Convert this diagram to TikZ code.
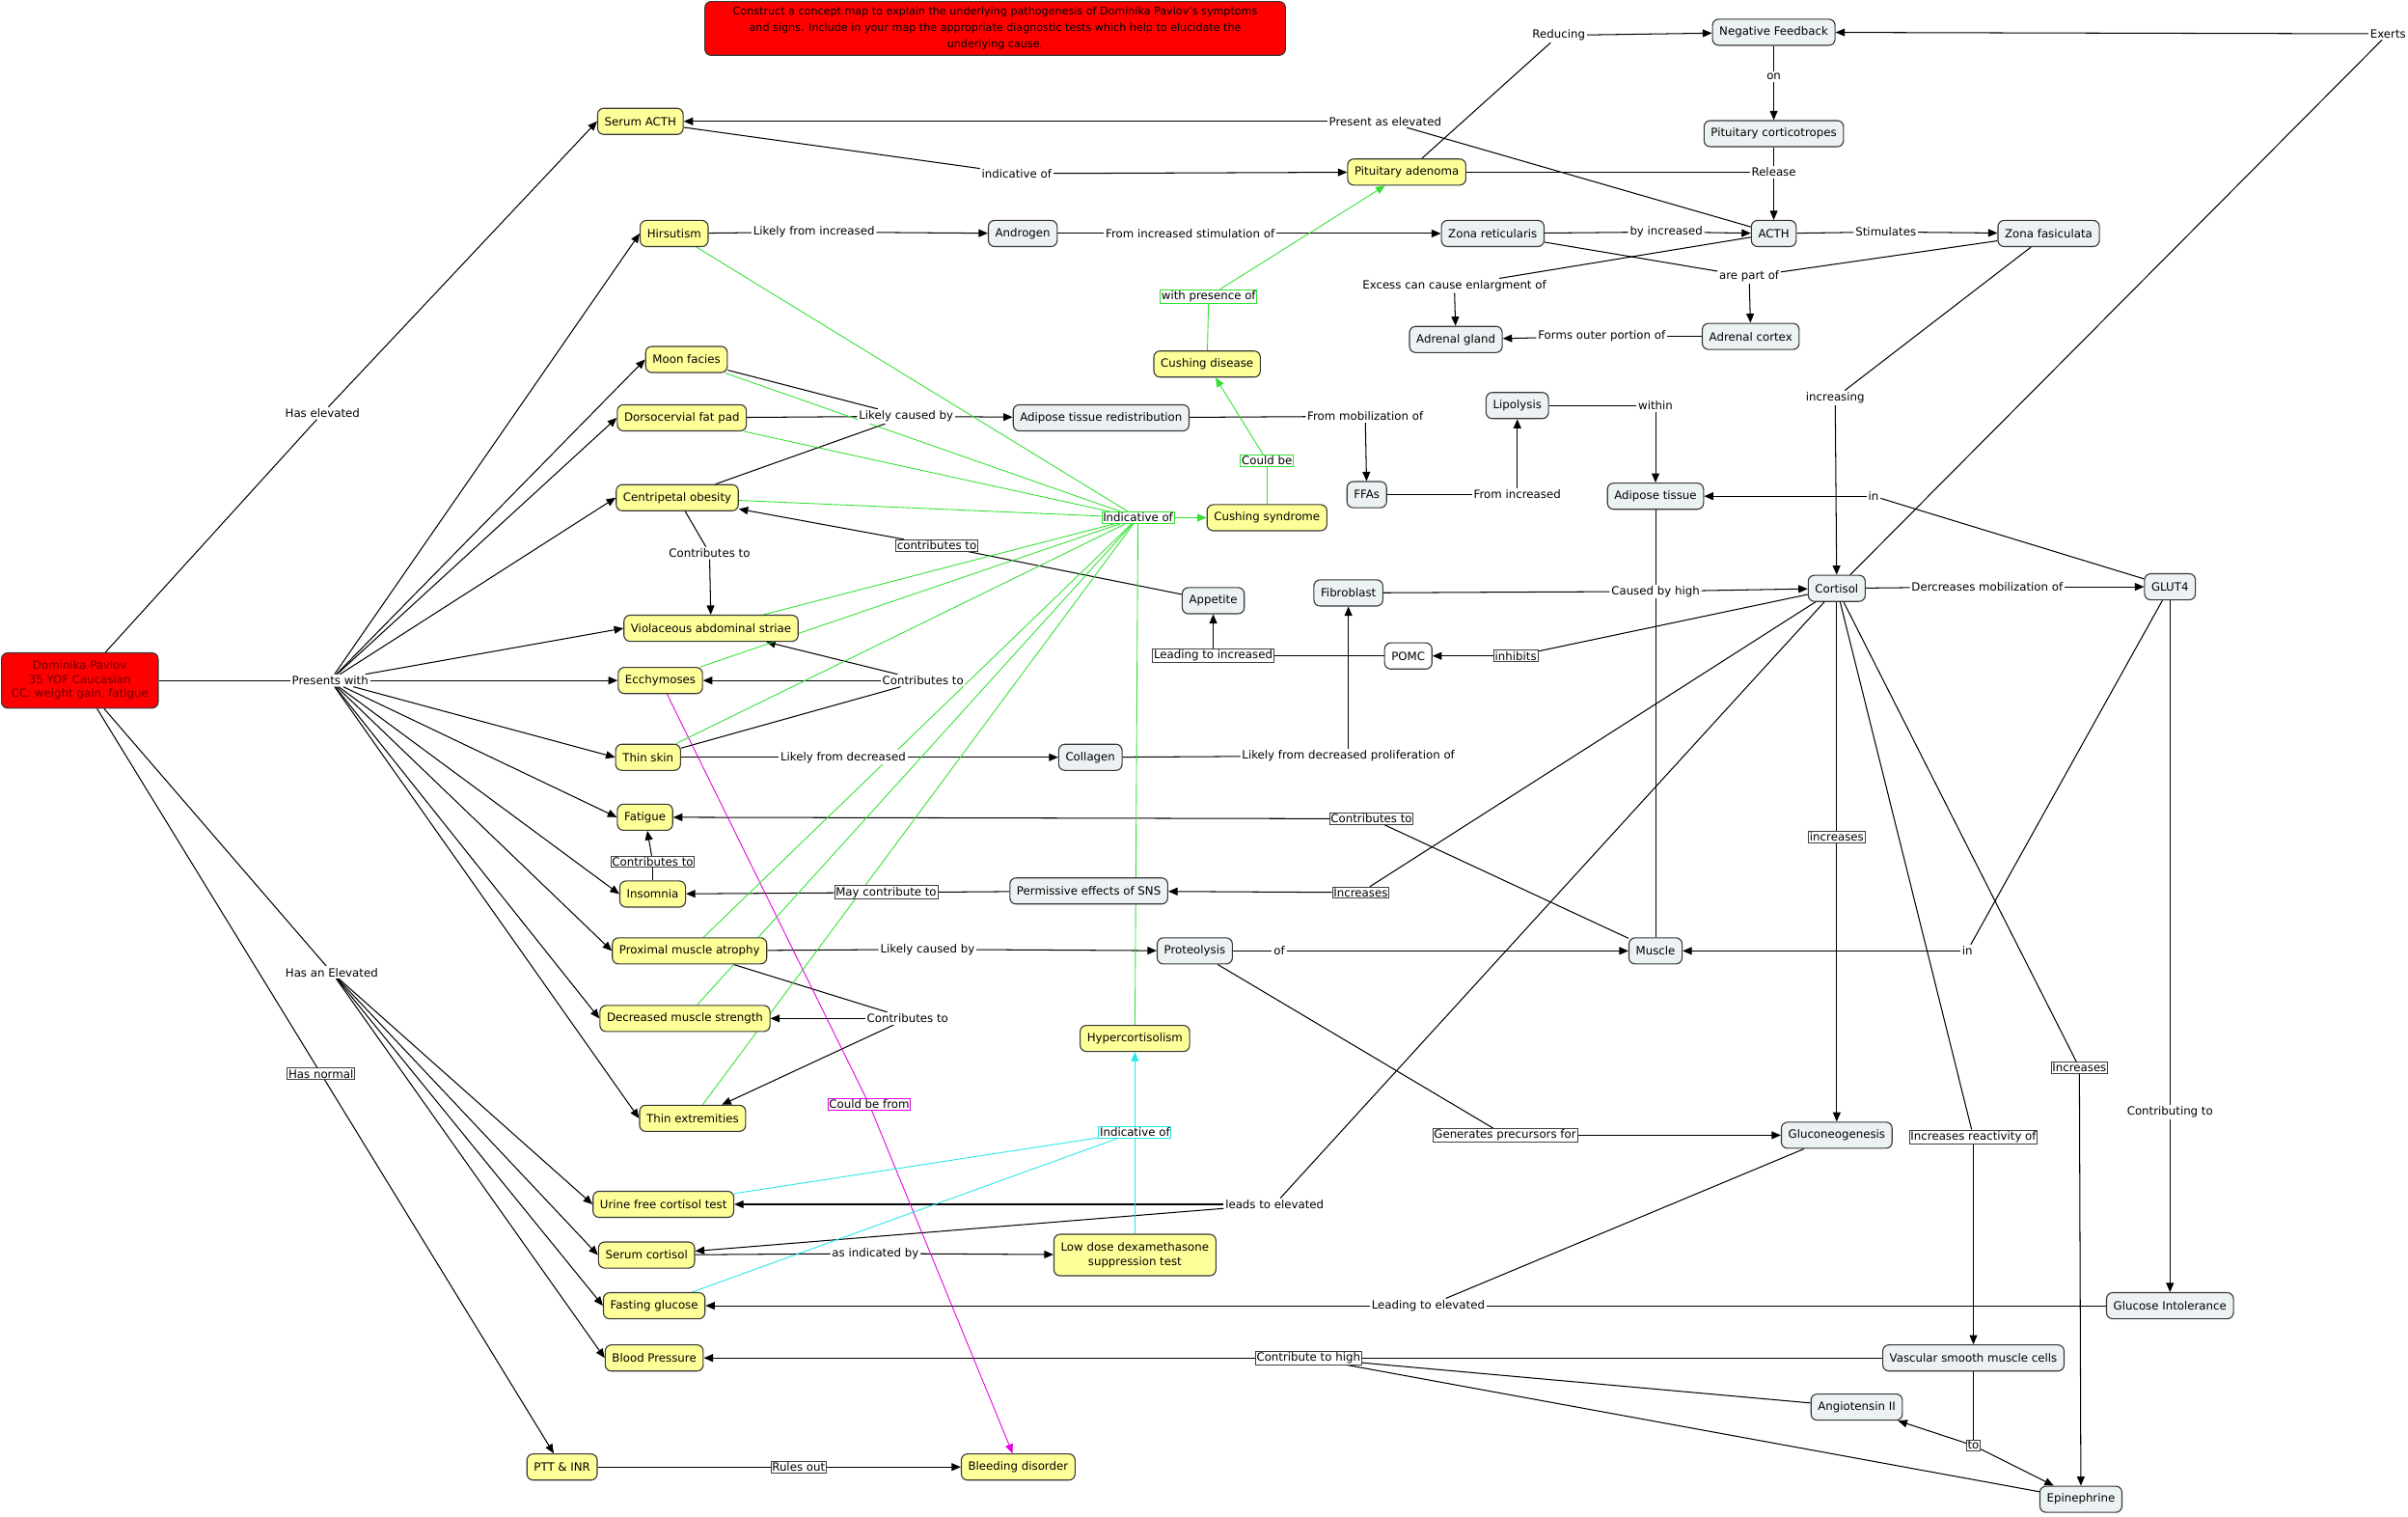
\documentclass[tikz,border=0pt]{standalone}
\usepackage{fontspec}
\setmainfont{DejaVu Sans}
\usetikzlibrary{arrows.meta}
\definecolor{cyel}{RGB}{255,255,153}
\definecolor{cgry}{RGB}{236,242,243}
\definecolor{cred}{RGB}{255,0,0}
\definecolor{cdred}{RGB}{110,0,0}
\definecolor{cgrn}{RGB}{50,225,50}
\definecolor{ccyn}{RGB}{40,230,230}
\definecolor{cmag}{RGB}{225,0,225}
\definecolor{cbord}{RGB}{55,55,55}
\pgfdeclarelayer{bg}
\pgfsetlayers{bg,main}
\tikzset{
 concept/.style={draw=cbord, line width=0.7pt, rounded corners=4pt, inner xsep=4.5pt, inner ysep=2pt, minimum height=17pt, font=\fontsize{7.4}{9.1}\selectfont, align=center},
 yel/.style={concept, fill=cyel},
 gry/.style={concept, fill=cgry},
 wht/.style={concept, fill=white},
 lbl/.style={fill=white, inner sep=1pt, font=\fontsize{7.4}{9.1}\selectfont},
 blbl/.style={lbl, draw=black!75, line width=0.5pt, inner sep=0.8pt},
 glbl/.style={lbl, draw=cgrn, line width=0.6pt, inner sep=0.8pt},
 clbl/.style={lbl, draw=ccyn, line width=0.6pt, inner sep=0.8pt},
 mlbl/.style={lbl, draw=cmag, line width=0.6pt, inner sep=0.8pt},
 ln/.style={line width=0.65pt},
 arr/.style={line width=0.65pt, -{Triangle[length=6pt,width=5pt]}},
}
\begin{document}
\begin{tikzpicture}[x=1pt,y=-1pt]
\useasboundingbox (0,0) rectangle (1568,987);
% ---------- concepts ----------
\node[concept, fill=cred, minimum width=378pt, minimum height=35pt, font=\fontsize{7}{10.6}\selectfont] (title) at (648,18.5) {Construct a concept map to explain the underlying pathogenesis of Dominika Pavlov’s symptoms\\and signs. Include in your map the appropriate diagnostic tests which help to elucidate the\\underlying cause.};
\node[concept, fill=cred, text=cdred, minimum width=102pt, minimum height=36pt] (dom) at (52,443) {Dominika Pavlov\\35 YOF Caucasian\\CC: weight gain, fatigue};
\node[yel] (sacth) at (417,79) {Serum ACTH};
\node[yel] (pitad) at (916,112) {Pituitary adenoma};
\node[gry] (negfb) at (1155,21) {Negative Feedback};
\node[gry] (pitcort) at (1155,87) {Pituitary corticotropes};
\node[gry] (acth) at (1155,152) {ACTH};
\node[gry] (zr) at (972,152) {Zona reticularis};
\node[gry] (zf) at (1334,152) {Zona fasiculata};
\node[yel] (hirs) at (439,152) {Hirsutism};
\node[gry] (andr) at (666,152) {Androgen};
\node[gry] (adgl) at (948,221) {Adrenal gland};
\node[gry] (adco) at (1140,219) {Adrenal cortex};
\node[yel] (moon) at (447,234) {Moon facies};
\node[yel] (cdis) at (786,237) {Cushing disease};
\node[yel] (dors) at (444,272) {Dorsocervial fat pad};
\node[gry] (atr) at (717,272) {Adipose tissue redistribution};
\node[gry] (lipo) at (988,264) {Lipolysis};
\node[gry] (ffa) at (890,322) {FFAs};
\node[gry] (adip) at (1078,323) {Adipose tissue};
\node[yel] (cob) at (441,324) {Centripetal obesity};
\node[yel] (csyn) at (825,337) {Cushing syndrome};
\node[gry] (app) at (790,391) {Appetite};
\node[gry] (fib) at (878,386) {Fibroblast};
\node[gry] (cort) at (1196,383) {Cortisol};
\node[gry] (glut) at (1413,382) {GLUT4};
\node[yel] (vio) at (463,409) {Violaceous abdominal striae};
\node[wht] (pomc) at (917,427) {POMC};
\node[yel] (ecch) at (430,443) {Ecchymoses};
\node[yel] (tskin) at (422,493) {Thin skin};
\node[gry] (coll) at (710,493) {Collagen};
\node[yel] (fat) at (420,532) {Fatigue};
\node[yel] (ins) at (425,582) {Insomnia};
\node[gry] (pses) at (709,580) {Permissive effects of SNS};
\node[yel] (pma) at (449,619) {Proximal muscle atrophy};
\node[gry] (prot) at (778,619) {Proteolysis};
\node[gry] (musc) at (1078,619) {Muscle};
\node[yel] (dms) at (446,663) {Decreased muscle strength};
\node[yel] (hyper) at (739,676) {Hypercortisolism};
\node[yel] (thext) at (451,728) {Thin extremities};
\node[gry] (gluco) at (1196,739) {Gluconeogenesis};
\node[yel] (ufc) at (432,784) {Urine free cortisol test};
\node[yel] (scort) at (421,817) {Serum cortisol};
\node[yel, minimum height=27pt] (ldd) at (739,817) {Low dose dexamethasone\\suppression test};
\node[yel] (fglu) at (426,850) {Fasting glucose};
\node[gry] (gint) at (1413,850) {Glucose Intolerance};
\node[yel] (bp) at (426,884) {Blood Pressure};
\node[gry] (vsmc) at (1285,884) {Vascular smooth muscle cells};
\node[gry] (ang) at (1209,916) {Angiotensin II};
\node[yel] (ptt) at (366,955) {PTT \& INR};
\node[yel] (bleed) at (663,955) {Bleeding disorder};
\node[gry] (epi) at (1355,976) {Epinephrine};
% ---------- linking phrases ----------
\node[lbl] (L1) at (210,269) {Has elevated};
\node[lbl] (L2) at (215,443) {Presents with};
\node[lbl] (L3) at (216,633) {Has an Elevated};
\node[blbl] (L4) at (209,699) {Has normal};
\node[lbl] (L5) at (662,113) {indicative of};
\node[lbl] (L6) at (902,79) {Present as elevated};
\node[lbl] (L7) at (1015,23) {Reducing};
\node[lbl] (L8) at (1155,112) {Release};
\node[lbl] (L9) at (1155,50) {on};
\node[lbl] (L10) at (1555,22) {Exerts};
\node[lbl] (L11) at (530,151) {Likely from increased};
\node[lbl] (L12) at (775,152) {From increased stimulation of};
\node[lbl] (L13) at (1085,151) {by increased};
\node[lbl] (L14) at (1228,151) {Stimulates};
\node[lbl] (L15) at (947,186) {Excess can cause enlargment of};
\node[lbl] (L16) at (1139,180) {are part of};
\node[lbl] (L17) at (1043,219) {Forms outer portion of};
\node[lbl] (L18) at (1195,259) {increasing};
\node[lbl] (L19) at (590,271) {Likely caused by};
\node[lbl] (L20) at (889,271) {From mobilization of};
\node[lbl] (L21) at (988,322) {From increased};
\node[lbl] (L22) at (1078,264) {within};
\node[lbl] (L23) at (1220,323) {in};
\node[lbl] (L24) at (1281,619) {in};
\node[lbl] (L25) at (1078,385) {Caused by high};
\node[lbl] (L26) at (1294,382) {Dercreases mobilization of};
\node[blbl] (L27) at (987,427) {inhibits};
\node[blbl] (L28) at (790,427) {Leading to increased};
\node[blbl] (L29) at (610,355) {contributes to};
\node[lbl] (L30) at (878,492) {Likely from decreased proliferation of};
\node[lbl] (L31) at (549,493) {Likely from decreased};
\node[lbl] (L32) at (462,360) {Contributes to};
\node[lbl] (L33) at (601,443) {Contributes to};
\node[blbl] (L34) at (893,533) {Contributes to};
\node[blbl] (L35) at (425,561) {Contributes to};
\node[blbl] (L36) at (577,581) {May contribute to};
\node[blbl] (L37) at (886,581) {Increases};
\node[lbl] (L38) at (833,619) {of};
\node[lbl] (L39) at (604,618) {Likely caused by};
\node[lbl] (L40) at (591,663) {Contributes to};
\node[blbl] (L41) at (980,739) {Generates precursors for};
\node[blbl] (L42) at (1196,545) {increases};
\node[blbl] (L43) at (1285,740) {Increases reactivity of};
\node[blbl] (L44) at (1354,695) {Increases};
\node[lbl] (L45) at (1413,724) {Contributing to};
\node[lbl] (L46) at (930,850) {Leading to elevated};
\node[lbl] (L47) at (830,784) {leads to elevated};
\node[lbl] (L48) at (570,816) {as indicated by};
\node[blbl] (L49) at (852,884) {Contribute to high};
\node[blbl] (L50) at (1285,941) {to};
\node[blbl] (L51) at (520,955) {Rules out};
\node[mlbl] (L52) at (566,719) {Could be from};
\node[glbl] (L53) at (741,337) {Indicative of};
\node[glbl] (L54) at (825,300) {Could be};
\node[glbl] (L55) at (787,193) {with presence of};
\node[clbl] (L56) at (739,737) {Indicative of};
% ---------- connectors ----------
\begin{pgfonlayer}{bg}
\draw[ln] (dom) -- (L1); \draw[arr] (L1) -- (sacth.west);
\draw[ln] (dom) -- (L2);
\foreach \t in {hirs,moon,dors,cob,vio,ecch,tskin,fat,ins,pma,dms,thext} {\draw[arr] (L2) -- (\t.west);}
\draw[ln] (dom) -- (L3);
\foreach \t in {ufc,scort,fglu,bp} {\draw[arr] (L3) -- (\t.west);}
\draw[ln] (dom) -- (L4); \draw[arr] (L4) -- (ptt);
\draw[ln] (sacth) -- (L5); \draw[arr] (L5) -- (pitad);
\draw[ln] (acth) -- (L6); \draw[arr] (L6) -- (sacth);
\draw[ln] (pitad) -- (L7); \draw[arr] (L7) -- (negfb);
\draw[ln] (pitad) -- (L8); \draw[ln] (pitcort) -- (L8); \draw[arr] (L8) -- (acth);
\draw[ln] (negfb) -- (L9); \draw[arr] (L9) -- (pitcort);
\draw[ln] (cort) -- (L10); \draw[arr] (L10) -- (negfb);
\draw[ln] (hirs) -- (L11); \draw[arr] (L11) -- (andr);
\draw[ln] (andr) -- (L12); \draw[arr] (L12) -- (zr);
\draw[ln] (zr) -- (L13); \draw[arr] (L13) -- (acth);
\draw[ln] (acth) -- (L14); \draw[arr] (L14) -- (zf);
\draw[ln] (acth) -- (L15); \draw[arr] (L15) -- (adgl);
\draw[ln] (zr) -- (L16); \draw[ln] (zf) -- (L16); \draw[arr] (L16) -- (adco);
\draw[ln] (adco) -- (L17); \draw[arr] (L17) -- (adgl);
\draw[ln] (zf) -- (L18); \draw[arr] (L18) -- (cort);
\draw[ln] (moon) -- (L19); \draw[ln] (dors) -- (L19); \draw[ln] (cob) -- (L19); \draw[arr] (L19) -- (atr);
\draw[ln] (atr) -- (L20); \draw[arr] (L20) -- (ffa);
\draw[ln] (ffa) -- (L21); \draw[arr] (L21) -- (lipo);
\draw[ln] (lipo) -- (L22); \draw[arr] (L22) -- (adip);
\draw[ln] (glut) -- (L23); \draw[arr] (L23) -- (adip);
\draw[ln] (glut) -- (L24); \draw[arr] (L24) -- (musc);
\draw[ln] (adip) -- (musc);
\draw[ln] (fib) -- (L25); \draw[arr] (L25) -- (cort);
\draw[ln] (cort) -- (L26); \draw[arr] (L26) -- (glut);
\draw[ln] (cort) -- (L27); \draw[arr] (L27) -- (pomc);
\draw[ln] (pomc) -- (L28); \draw[arr] (L28) -- (app);
\draw[ln] (app) -- (L29); \draw[arr] (L29) -- (cob);
\draw[ln] (coll) -- (L30); \draw[arr] (L30) -- (fib);
\draw[ln] (tskin) -- (L31); \draw[arr] (L31) -- (coll);
\draw[ln] (cob) -- (L32); \draw[arr] (L32) -- (vio);
\draw[ln] (tskin) -- (L33); \draw[arr] (L33) -- (vio); \draw[arr] (L33) -- (ecch);
\draw[ln] (musc) -- (L34); \draw[arr] (L34) -- (fat);
\draw[ln] (ins) -- (L35); \draw[arr] (L35) -- (fat);
\draw[ln] (pses) -- (L36); \draw[arr] (L36) -- (ins);
\draw[ln] (cort) -- (L37); \draw[arr] (L37) -- (pses);
\draw[ln] (prot) -- (L38); \draw[arr] (L38) -- (musc);
\draw[ln] (pma) -- (L39); \draw[arr] (L39) -- (prot);
\draw[ln] (pma) -- (L40); \draw[arr] (L40) -- (dms); \draw[arr] (L40) -- (thext);
\draw[ln] (prot) -- (L41); \draw[arr] (L41) -- (gluco);
\draw[ln] (cort) -- (L42); \draw[arr] (L42) -- (gluco);
\draw[ln] (cort) -- (L43); \draw[arr] (L43) -- (vsmc);
\draw[ln] (cort) -- (L44); \draw[arr] (L44) -- (epi);
\draw[ln] (glut) -- (L45); \draw[arr] (L45) -- (gint);
\draw[ln] (gluco) -- (L46); \draw[ln] (gint) -- (L46); \draw[arr] (L46) -- (fglu);
\draw[ln] (cort) -- (L47); \draw[arr] (L47) -- (ufc); \draw[arr] (L47) -- (scort);
\draw[ln] (scort) -- (L48); \draw[arr] (L48) -- (ldd);
\draw[ln] (vsmc) -- (L49); \draw[ln] (ang) -- (L49); \draw[ln] (epi) -- (L49); \draw[arr] (L49) -- (bp);
\draw[ln] (vsmc) -- (L50); \draw[arr] (L50) -- (ang); \draw[arr] (L50) -- (epi);
\draw[ln] (ptt) -- (L51); \draw[arr] (L51) -- (bleed);
\draw[ln, cmag, line width=0.55pt] (ecch) -- (L52); \draw[arr, cmag, line width=0.55pt] (L52) -- (bleed);
\foreach \s in {hirs,moon,dors,cob,vio,ecch,tskin,pma,dms,thext,hyper} {\draw[ln, cgrn, line width=0.55pt] (\s) -- (L53);}
\draw[arr, cgrn, line width=0.55pt] (L53) -- (csyn);
\draw[ln, cgrn, line width=0.55pt] (csyn) -- (L54); \draw[arr, cgrn, line width=0.55pt] (L54) -- (cdis);
\draw[ln, cgrn, line width=0.55pt] (cdis) -- (L55); \draw[arr, cgrn, line width=0.55pt] (L55) -- (pitad);
\foreach \s in {ufc,fglu,ldd} {\draw[ln, ccyn, line width=0.55pt] (\s) -- (L56);}
\draw[arr, ccyn, line width=0.55pt] (L56) -- (hyper);
\end{pgfonlayer}
\end{tikzpicture}
\end{document}
